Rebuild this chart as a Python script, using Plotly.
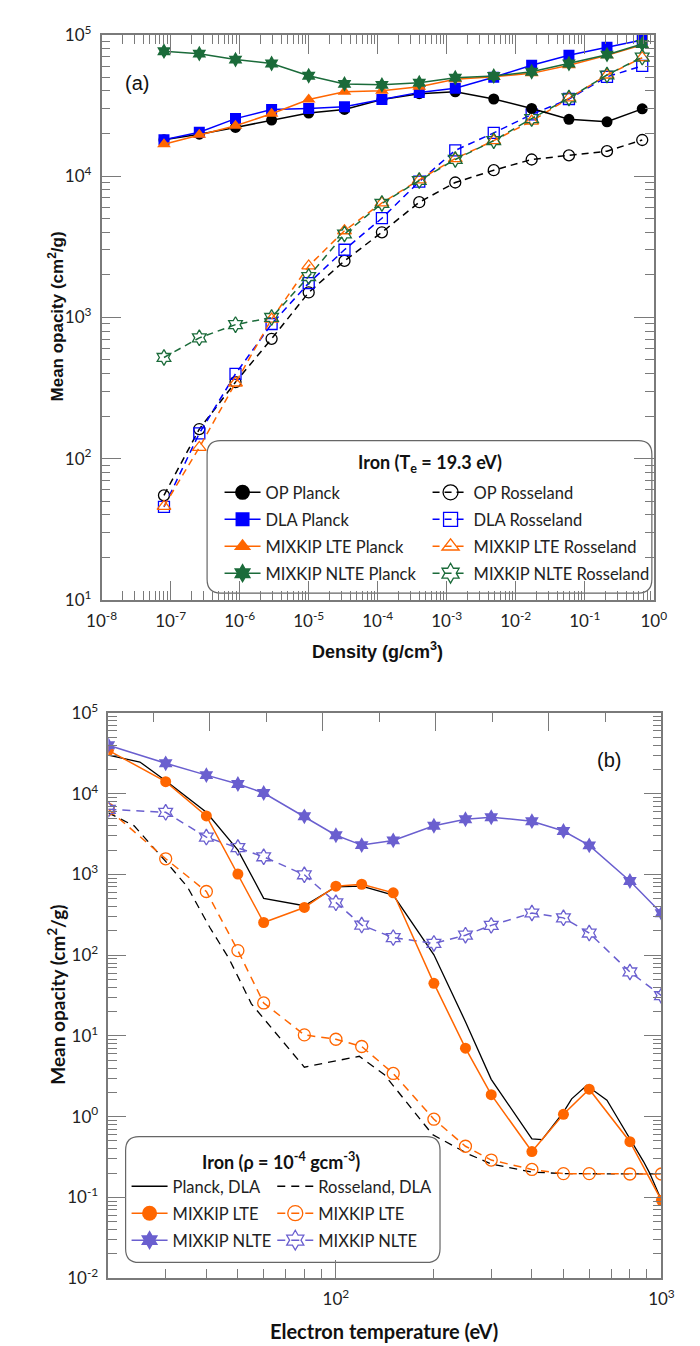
import plotly.graph_objects as go
import math

# ---------------- Panel (a) data: Iron, Te = 19.3 eV ----------------
density = [8e-8, 2.6e-7, 8.7e-7, 2.9e-6, 1e-5, 3.3e-5, 1.15e-4, 4e-4, 1.33e-3, 4.8e-3, 1.7e-2, 5.9e-2, 0.21, 0.68]
op_planck = [18100, 19800, 22100, 24900, 27900, 29600, 34800, 38300, 39500, 35100, 30100, 25200, 24200, 29900]
dla_planck = [18100, 20400, 25500, 29600, 30100, 30900, 34800, 39100, 41900, 50000, 60800, 71500, 81600, 91800]
lte_planck = [16800, 19600, 22700, 27600, 34800, 39500, 40100, 42900, 48400, 50400, 53300, 60800, 71500, 85100]
nlte_planck = [76500, 73500, 66700, 62600, 51300, 44900, 44200, 45800, 49700, 51100, 54700, 62600, 72300, 86100]
op_ross = [55, 162, 348, 705, 1500, 2510, 4000, 6530, 9000, 11000, 13100, 14000, 15000, 18000]
dla_ross = [45.6, 151, 398, 897, 1746, 3010, 5030, 9140, 15200, 20200, 27300, 35100, 50400, 60200]
lte_ross = [46, 120, 343, 973, 2310, 4100, 6460, 9400, 13300, 17800, 24500, 35700, 51900, 68800]
nlte_ross = [520, 716, 888, 998, 1945, 3890, 6400, 9300, 13100, 17800, 25500, 35700, 51900, 69500]

# ---------------- Panel (b) data: Iron, rho = 1e-4 g/cm3 ----------------
temp = [20, 30, 40, 50, 60, 80, 100, 120, 150, 200, 250, 300, 400, 500, 600, 800, 1000]
lte_planck_b = [34500, 14100, 5300, 1010, 254, 390, 715, 756, 593, 44.8, 7.06, 1.87, 0.37, 1.07, 2.19, 0.49, 0.092]
lte_ross_b = [6400, 1563, 615, 114, 25.6, 10.3, 9.1, 7.4, 3.43, 0.93, 0.43, 0.29, 0.222, 0.197, 0.197, 0.195, 0.195]
nlte_planck_b = [39800, 23800, 17000, 13200, 10200, 5250, 3060, 2310, 2640, 4010, 4830, 5110, 4570, 3450, 2290, 830, 330]
nlte_ross_b = [6400, 5880, 2900, 2150, 1655, 990, 445, 236, 165, 140, 177, 234, 333, 290, 188, 62, 31.5]

temp_dla_planck = [20, 25, 30, 40, 50, 60, 80, 100, 120, 150, 200, 250, 300, 400, 430, 500, 530, 590, 620, 680, 730, 800, 880, 920, 1000]
dla_planck_b = [30000, 24700, 14500, 5900, 2000, 506, 410, 702, 715, 556, 101, 15, 2.9, 0.53, 0.52, 1.14, 1.66, 2.45, 2.1, 1.6, 0.99, 0.54, 0.28, 0.2, 0.092]
temp_dla_ross = [20, 24, 30, 35, 41, 47, 55, 80, 118, 141, 198, 257, 300, 400, 500, 600, 800, 1000]
dla_ross_b = [5800, 4000, 1450, 700, 220, 90, 25, 4.1, 5.6, 3.3, 0.6, 0.34, 0.26, 0.206, 0.197, 0.196, 0.195, 0.195]

# tick labels
xticks_a = [10.0 ** e for e in range(-8, 1)]
xticktext_a = ["10<sup>%d</sup>" % e for e in range(-8, 1)]
yticks_a = [10.0 ** e for e in range(1, 6)]
yticktext_a = ["10<sup>%d</sup>" % e for e in range(1, 6)]
xticks_b = [100, 1000]
xticktext_b = ["10<sup>2</sup>", "10<sup>3</sup>"]
yticks_b = [10.0 ** e for e in range(-2, 6)]
yticktext_b = ["10<sup>%d</sup>" % e for e in range(-2, 6)]

W, H = 700, 1346
def PX(p):
    return p / W
def PY(p):
    return 1 - p / H

BLUE = '#0000FF'
ORANGE = '#FF6600'
GREEN = '#1B6B3A'
PURPLE = '#6A5FCF'
BLACK = '#000000'
AX = '#7a7a7a'

fig = go.Figure()

def add(x, y, color, symbol, dash, size, xa, ya, lw=1.5, filled=True, mode='lines+markers'):
    mk = dict(symbol=symbol, size=size, color=color,
              line=dict(width=0 if filled else 1.3, color=color))
    fig.add_trace(go.Scatter(x=x, y=y, mode=mode, xaxis=xa, yaxis=ya, showlegend=False,
                             line=dict(color=color, width=lw, dash=dash), marker=mk))

def leg(name, color, symbol, dash, size, legend, filled=True, mode='lines+markers', lw=1.5):
    mk = dict(symbol=symbol, size=size, color=color,
              line=dict(width=0 if filled else 1.3, color=color))
    fig.add_trace(go.Scatter(x=[None], y=[None], mode=mode, name=name, legend=legend,
                             legendgroup=name + legend, xaxis='x', yaxis='y',
                             line=dict(color=color, width=lw, dash=dash), marker=mk))

DA = '7px,5px'
# Panel (a)
add(density, op_ross, BLACK, 'circle-open', DA, 11, 'x', 'y', filled=False)
add(density, dla_ross, BLUE, 'square-open', DA, 11, 'x', 'y', filled=False)
add(density, lte_ross, ORANGE, 'triangle-up-open', DA, 12, 'x', 'y', filled=False)
add(density, nlte_ross, GREEN, 'hexagram-open', DA, 12, 'x', 'y', filled=False)
add(density, op_planck, BLACK, 'circle', 'solid', 11, 'x', 'y')
add(density, dla_planck, BLUE, 'square', 'solid', 11, 'x', 'y')
add(density, lte_planck, ORANGE, 'triangle-up', 'solid', 12, 'x', 'y')
add(density, nlte_planck, GREEN, 'hexagram', 'solid', 12, 'x', 'y')

# Panel (b)
DB = '8px,6px'
add(temp_dla_ross, dla_ross_b, BLACK, 'circle', DB, 1, 'x2', 'y2', lw=1.3, mode='lines')
add(temp_dla_planck, dla_planck_b, BLACK, 'circle', 'solid', 1, 'x2', 'y2', lw=1.3, mode='lines')
add(temp, lte_ross_b, ORANGE, 'circle-open', DB, 12, 'x2', 'y2', filled=False)
add(temp, nlte_ross_b, PURPLE, 'hexagram-open', DB, 12, 'x2', 'y2', filled=False)
add(temp, lte_planck_b, ORANGE, 'circle', 'solid', 11, 'x2', 'y2')
add(temp, nlte_planck_b, PURPLE, 'hexagram', 'solid', 12, 'x2', 'y2')
fig.add_trace(go.Scatter(x=[], y=[], xaxis='x3', yaxis='y2', showlegend=False))

# legend entries
leg('OP Planck', BLACK, 'circle', 'solid', 15, 'legend')
leg('DLA Planck', BLUE, 'square', 'solid', 14, 'legend')
leg('MIXKIP LTE Planck', ORANGE, 'triangle-up', 'solid', 15, 'legend')
leg('MIXKIP NLTE Planck', GREEN, 'hexagram', 'solid', 15, 'legend')
leg('OP Rosseland', BLACK, 'circle-open', DA, 15, 'legend2', filled=False)
leg('DLA Rosseland', BLUE, 'square-open', DA, 14, 'legend2', filled=False)
leg('MIXKIP LTE Rosseland', ORANGE, 'triangle-up-open', DA, 15, 'legend2', filled=False)
leg('MIXKIP NLTE Rosseland', GREEN, 'hexagram-open', DA, 15, 'legend2', filled=False)
leg('Planck, DLA', BLACK, 'circle', 'solid', 1, 'legend3', mode='lines', lw=1.3)
leg('MIXKIP LTE', ORANGE, 'circle', 'solid', 15, 'legend3')
leg('MIXKIP NLTE', PURPLE, 'hexagram', 'solid', 15, 'legend3')
leg('Rosseland, DLA', BLACK, 'circle', DB, 1, 'legend4', mode='lines', lw=1.3)
leg('MIXKIP LTE ', ORANGE, 'circle-open', DB, 15, 'legend4', filled=False)
leg('MIXKIP NLTE ', PURPLE, 'hexagram-open', DB, 15, 'legend4', filled=False)

def minor_log(lo, hi):
    out = []
    for e in range(lo, hi):
        for m in range(2, 10):
            out.append(m * 10.0 ** e)
    return out

TICKFONT = dict(family='Lato', size=17, color='#222')

def logaxis(domain, rng, tv, tt, minors, anchor, maj, mino):
    return dict(type='log', domain=domain, range=rng, anchor=anchor,
                tickmode='array', tickvals=tv, ticktext=tt,
                ticks='inside', ticklen=maj, tickwidth=1, tickcolor=AX,
                showline=True, linecolor=AX, linewidth=1.5, mirror='ticks',
                showgrid=False, zeroline=False, tickfont=TICKFONT,
                ticklabelstandoff=5,
                minor=dict(tickmode='array', tickvals=minors, ticks='inside',
                           ticklen=mino, tickwidth=1, tickcolor=AX, showgrid=False))

xa = logaxis([PX(81), PX(657)], [-8, 0], xticks_a, xticktext_a, minor_log(-8, 0), 'y', 19, 9)
ya = logaxis([PY(589), PY(14)], [1, 5], yticks_a, yticktext_a, minor_log(1, 5), 'x', 20, 9)
xb = logaxis([PX(88), PX(665)], [math.log10(20), 3], xticks_b, xticktext_b,
             [30, 40, 50, 60, 70, 80, 90, 200, 300, 400, 500, 600, 700, 800, 900], 'y2', 18, 9)
xb['mirror'] = True
yb = logaxis([PY(1279), PY(704)], [-2, 5], yticks_b, yticktext_b, minor_log(-2, 5), 'x2', 18, 9)

top_long_b = [3 - 2 * k * 0.1734 for k in range(5)]
top_short_b = [3 - (2 * k + 1) * 0.1734 for k in range(5)]
xc = dict(type='linear', overlaying='x2', side='top', anchor='y2', range=[math.log10(20), 3],
          tickmode='array', tickvals=top_long_b, ticks='inside', ticklen=18, tickcolor=AX,
          showticklabels=False, showgrid=False, zeroline=False, showline=False,
          minor=dict(tickmode='array', tickvals=top_short_b, ticks='inside', ticklen=9,
                     tickcolor=AX, showgrid=False))

def rrect(x0, y0, x1, y1, r):
    pts = [
        ('M', [(x0 + r, y0)]), ('L', [(x1 - r, y0)]), ('Q', [(x1, y0), (x1, y0 + r)]),
        ('L', [(x1, y1 - r)]), ('Q', [(x1, y1), (x1 - r, y1)]),
        ('L', [(x0 + r, y1)]), ('Q', [(x0, y1), (x0, y1 - r)]),
        ('L', [(x0, y0 + r)]), ('Q', [(x0, y0), (x0 + r, y0)]),
    ]
    s = ''
    for cmd, ps in pts:
        s += cmd + ' '.join('%.5f,%.5f' % (PX(a), PY(b)) for a, b in ps) + ' '
    return s + 'Z'

shapes = [
    dict(type='path', xref='paper', yref='paper', path=rrect(191, 427, 655, 582, 14),
         line=dict(color='#666', width=1.2), fillcolor='white', layer='below'),
    dict(type='path', xref='paper', yref='paper', path=rrect(106, 1135, 434, 1263, 14),
         line=dict(color='#666', width=1.2), fillcolor='white', layer='below'),
]

LEGFONT = dict(family='Lato', size=16.5, color='#222')
def legend(x, y):
    return dict(x=PX(x), y=PY(y), xanchor='left', yanchor='top', bgcolor='rgba(0,0,0,0)',
                borderwidth=0, font=LEGFONT, itemwidth=36, tracegroupgap=2.5,
                itemclick=False, itemdoubleclick=False)

def ann(text, x, y, font, angle=0):
    return dict(text=text, x=PX(x), y=PY(y), xref='paper', yref='paper', showarrow=False,
                xanchor='center', yanchor='middle', font=font, textangle=angle)

annotations = [
    ann('(a)', 118, 63, dict(family='Liberation Sans', size=20, color='#111')),
    ann('(b)', 610, 752, dict(family='Liberation Sans', size=20, color='#111')),
    ann('<b>Iron (T<sub>e</sub> = 19.3 eV)</b>', 424, 450, dict(family='Lato', size=18, color='#111')),
    ann('<b>Iron (ρ = 10<sup>-4</sup> gcm<sup>-3</sup>)</b>', 268, 1160, dict(family='Lato', size=18, color='#111')),
    ann('<b>Mean opacity (cm<sup>2</sup>/g)</b>', 33, 301, dict(family='Liberation Sans', size=17, color='#111'), -90),
    ann('<b>Density (g/cm<sup>3</sup>)</b>', 369, 640, dict(family='Liberation Sans', size=18, color='#111')),
    ann('<b>Mean opacity (cm<sup>2</sup>/g)</b>', 33, 991, dict(family='Lato', size=19, color='#111'), -90),
    ann('<b>Electron temperature (eV)</b>', 376, 1333, dict(family='Lato', size=20, color='#111')),
]

fig.update_layout(
    width=W, height=H, margin=dict(l=0, r=0, t=0, b=0),
    paper_bgcolor='white', plot_bgcolor='white',
    xaxis=xa, yaxis=ya, xaxis2=xb, yaxis2=yb, xaxis3=xc,
    legend=legend(204, 462), legend2=legend(421, 462),
    legend3=legend(107, 1168), legend4=legend(259, 1168),
    shapes=shapes, annotations=annotations,
)

fig.write_html('out.html')
